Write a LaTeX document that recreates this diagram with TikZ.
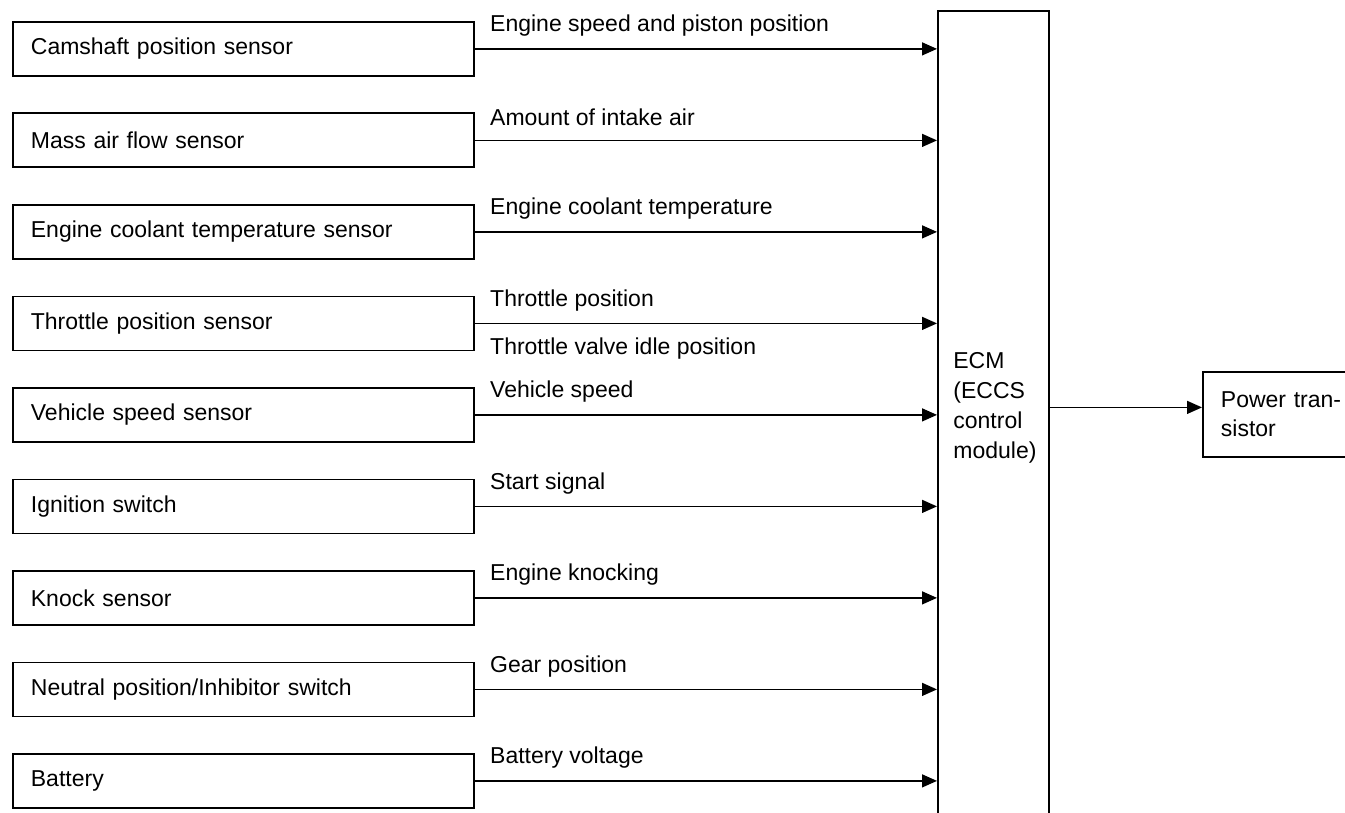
\documentclass[tikz,border=0pt]{standalone}
\usepackage{fontspec}
\setmainfont{Liberation Sans}
\usetikzlibrary{arrows.meta,calc}

\begin{document}
\begin{tikzpicture}[x=0.5pt,y=-0.5pt,font=\fontsize{11.5pt}{14.5pt}\selectfont,
  box/.style={draw,line width=0.9pt,inner xsep=9pt,inner ysep=0pt,text width=212.5pt,minimum height=27pt,align=left},
  sig/.style={line width=0.7pt,-{Triangle[length=7.5pt,width=6.5pt]}},
  lab/.style={anchor=west,inner sep=0pt}]
\useasboundingbox (0,0) rectangle (1345,813);
\node[draw,line width=1pt,inner sep=0pt,minimum width=55.5pt,minimum height=420pt,anchor=north west] (ecm) at (937,10) {};
\node[anchor=north west,inner sep=0pt,align=left,font=\fontsize{11.5pt}{15pt}\selectfont] (ecmlab) at (953,352) {ECM\\(ECCS\\control\\module)};
\foreach \i/\n/\txt/\lbl in {0/cam/Camshaft position sensor/Engine speed and piston position,
  1/maf/Mass air flow sensor/Amount of intake air,
  2/ect/Engine coolant temperature sensor/Engine coolant temperature,
  3/tps/Throttle position sensor/Throttle position,
  4/vss/Vehicle speed sensor/Vehicle speed,
  5/ign/Ignition switch/Start signal,
  6/knock/Knock sensor/Engine knocking,
  7/nps/{Neutral position/Inhibitor switch}/Gear position,
  8/batt/Battery/Battery voltage}{
  \node[box,anchor=north west] (\n) at (12,{21+91.5*\i}) {\txt};
  \draw[sig] (\n.east) -- (\n.east -| ecm.west);
  \node[lab] at ([xshift=7.5pt,yshift=11.5pt]\n.east) {\lbl};
}
\node[lab] at ([xshift=7.5pt,yshift=-12.5pt]tps.east) {Throttle valve idle position};
\node[draw,line width=0.9pt,anchor=north west,inner xsep=9pt,inner ysep=0pt,text width=72pt,minimum height=42.5pt,align=left] (pt) at (1202,371) {Power tran-\\sistor};
\coordinate (ptin) at ([yshift=3.5pt]pt.west);
\draw[sig] (ptin -| ecm.east) -- (ptin);
\end{tikzpicture}
\end{document}
